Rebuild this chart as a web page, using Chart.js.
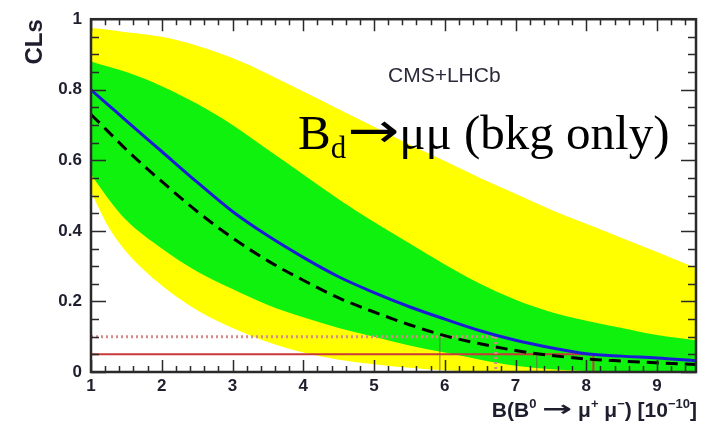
<!DOCTYPE html>
<html>
<head>
<meta charset="utf-8">
<script src="https://cdn.jsdelivr.net/npm/chart.js@4.4.0/dist/chart.umd.min.js"></script>
<style>
  html, body { margin: 0; padding: 0; background: #fff; }
  canvas { display: block; }
</style>
</head>
<body>
<canvas id="cls" width="704" height="427"></canvas>
<script>
// CLs vs B(B0 -> mu+ mu-), background-only hypothesis, CMS+LHCb combination
var xs      = [1, 1.25, 1.5, 2, 2.5, 3, 3.5, 4, 4.5, 5, 5.5, 6, 6.5, 7, 7.5, 8, 8.5, 9, 9.55];
var clsObs  = [0.80, 0.756, 0.712, 0.625, 0.538, 0.455, 0.386, 0.325, 0.27, 0.225, 0.185, 0.15, 0.117, 0.09, 0.069, 0.052, 0.045, 0.04, 0.032];
var clsExp  = [0.73, 0.68, 0.63, 0.54, 0.455, 0.38, 0.315, 0.26, 0.21, 0.17, 0.134, 0.103, 0.08, 0.061, 0.047, 0.037, 0.031, 0.026, 0.021];
var band1Hi = [0.88, 0.865, 0.85, 0.81, 0.76, 0.70, 0.63, 0.56, 0.49, 0.425, 0.365, 0.305, 0.25, 0.205, 0.17, 0.145, 0.125, 0.105, 0.09];
var band1Lo = [0.56, 0.49, 0.43, 0.35, 0.285, 0.235, 0.19, 0.155, 0.125, 0.10, 0.075, 0.055, 0.035, 0.018, 0.008, 0.003, 0.001, 0, 0];
var band2Hi = [0.975, 0.97, 0.963, 0.95, 0.925, 0.89, 0.845, 0.795, 0.745, 0.695, 0.645, 0.598, 0.55, 0.505, 0.46, 0.42, 0.38, 0.34, 0.295];
var band2Lo = [0.51, 0.41, 0.34, 0.245, 0.175, 0.125, 0.085, 0.055, 0.035, 0.022, 0.012, 0.005, 0.002, 0, 0, 0, 0, 0, 0];

var clsLevels = [0.05, 0.1];   // 95% and 90% CL
var obsLimits = [8.1, 6.72];   // observed CLs crossing each level
var expLimits = [7.3, 5.93];   // expected CLs crossing each level

var xTicks = [1, 2, 3, 4, 5, 6, 7, 8, 9];
var yTicks = [0, 0.2, 0.4, 0.6, 0.8, 1];
var xMin = 1, xMax = 9.55;

function pts(ys) {
  return xs.map(function (x, i) { return { x: x, y: ys[i] }; });
}
function limitLine(x, level) {
  return [{ x: xMin, y: level }, { x: x, y: level }, { x: x, y: 0 }];
}
function dropLine(x, level) {
  return [{ x: x, y: level }, { x: x, y: 0 }];
}

var curve = { pointRadius: 0, cubicInterpolationMode: 'monotone' };
var straight = { pointRadius: 0, tension: 0, fill: false };

var datasets = [
  Object.assign({ data: pts(band2Hi), fill: '+1', backgroundColor: '#ffff00', borderWidth: 0, order: 8 }, curve),
  Object.assign({ data: pts(band2Lo), fill: false, borderWidth: 0, order: 7 }, curve),
  Object.assign({ data: pts(band1Hi), fill: '+1', backgroundColor: '#0ef20e', borderWidth: 0, order: 6 }, curve),
  Object.assign({ data: pts(band1Lo), fill: false, borderWidth: 0, order: 5 }, curve),
  Object.assign({ data: dropLine(expLimits[1], clsLevels[1]), borderColor: 'rgba(120,90,90,0.35)', borderWidth: 1 }, straight, { order: 4 }),
  Object.assign({ data: dropLine(expLimits[0], clsLevels[0]), borderColor: 'rgba(120,90,90,0.35)', borderWidth: 1 }, straight, { order: 4 }),
  Object.assign({ data: limitLine(obsLimits[1], clsLevels[1]), borderColor: '#d88a8a', borderWidth: 3, borderDash: [2, 3] }, straight, { order: 3 }),
  Object.assign({ data: limitLine(obsLimits[0], clsLevels[0]), borderColor: '#c83a3a', borderWidth: 2 }, straight, { order: 3 }),
  Object.assign({ data: pts(clsExp), fill: false, borderColor: '#000', borderWidth: 3, borderDash: [12, 7] }, curve, { order: 1 }),
  Object.assign({ data: pts(clsObs), fill: false, borderColor: '#1b1bd6', borderWidth: 3 }, curve, { order: 0 })
];

// draws text squeezed or stretched to a given width, returns that width
function stretchText(ctx, txt, x, y, width) {
  var w = ctx.measureText(txt).width;
  ctx.save();
  ctx.translate(x, y);
  ctx.scale(width / w, 1);
  ctx.fillText(txt, 0, 0);
  ctx.restore();
  return width;
}

// box with inward ticks on all four sides, plus the text labels
var framePlugin = {
  id: 'frame',
  afterDatasetsDraw: function (chart) {
    var ctx = chart.ctx, a = chart.chartArea;
    var sx = chart.scales.x, sy = chart.scales.y;
    ctx.save();
    ctx.strokeStyle = '#2a2a2a';
    ctx.lineWidth = 1.5;
    ctx.beginPath();
    for (var i = 5; i <= 47; i++) {
      var px = Math.round(sx.getPixelForValue(i / 5)) + 0.5;
      var len = i % 5 === 0 ? 12 : 6;
      ctx.moveTo(px, a.bottom); ctx.lineTo(px, a.bottom - len);
      ctx.moveTo(px, a.top); ctx.lineTo(px, a.top + len);
    }
    for (var j = 0; j <= 20; j++) {
      var py = Math.round(sy.getPixelForValue(j * 0.05)) + 0.5;
      var ln = j % 4 === 0 ? 15 : 8;
      ctx.moveTo(a.left, py); ctx.lineTo(a.left + ln, py);
      ctx.moveTo(a.right, py); ctx.lineTo(a.right - ln, py);
    }
    ctx.stroke();
    ctx.lineWidth = 2.5;
    ctx.strokeRect(a.left, a.top, a.right - a.left, a.bottom - a.top);
    ctx.restore();
  },
  afterDraw: function (chart) {
    var ctx = chart.ctx, a = chart.chartArea;
    ctx.save();
    ctx.fillStyle = '#1e1e2e';
    ctx.textBaseline = 'alphabetic';
    ctx.textAlign = 'left';

    // y title
    ctx.save();
    ctx.translate(35, a.top);
    ctx.rotate(-Math.PI / 2);
    ctx.font = 'bold 24px "Liberation Sans", Arial, sans-serif';
    ctx.textAlign = 'right';
    ctx.textBaseline = 'middle';
    ctx.fillText('CLs', 0, 0);
    ctx.restore();

    // x title, right aligned to the frame
    var big = 'bold 21px "Liberation Sans", Arial, sans-serif';
    var small = 'bold 13px "Liberation Sans", Arial, sans-serif';
    var arrow = 'bold 21px "DejaVu Sans", sans-serif';
    var parts = [
      ['B(B', big, 0], ['0', small, -9], [' ', big, 0], ['\u2192', arrow, -1, 30], [' \u03bc', big, 0], ['+', small, -9],
      [' \u03bc', big, 0], ['\u2212', small, -9], [') [10', big, 0], ['\u221210', small, -9], [']', big, 0]
    ];
    var w = 0;
    parts.forEach(function (p) { ctx.font = p[1]; w += p[3] || ctx.measureText(p[0]).width; });
    var x = a.right + 1 - w;
    parts.forEach(function (p) {
      ctx.font = p[1];
      if (p[3]) {
        x += stretchText(ctx, p[0], x, 417 + p[2], p[3]);
      } else {
        ctx.fillText(p[0], x, 417 + p[2]);
        x += ctx.measureText(p[0]).width;
      }
    });

    // experiment label
    ctx.fillStyle = '#2a2a3a';
    ctx.font = '21px "Liberation Sans", Arial, sans-serif';
    ctx.fillText('CMS+LHCb', 388, 82);

    // channel label
    ctx.fillStyle = '#000';
    var serif = '"Liberation Serif", "Times New Roman", serif';
    var bx = 298, by = 149;
    ctx.font = '49px ' + serif;
    ctx.fillText('B', bx, by);
    bx += ctx.measureText('B').width;
    ctx.font = '31px ' + serif;
    ctx.fillText('d', bx, by + 9);
    bx += ctx.measureText('d').width + 1;
    ctx.font = '49px "DejaVu Sans", sans-serif';
    bx += stretchText(ctx, '\u2192', bx, by - 2, 52);
    ctx.font = '49px ' + serif;
    ctx.fillText('\u03bc\u03bc (bkg only)', bx, by);
    ctx.restore();
  }
};

var tickFont = { family: '"Liberation Sans", Arial, sans-serif', weight: 'bold', size: 17 };

new Chart(document.getElementById('cls').getContext('2d'), {
  type: 'line',
  data: { datasets: datasets },
  options: {
    responsive: false,
    animation: false,
    layout: { padding: { top: 16, right: 8, left: 0, bottom: 0 } },
    plugins: { legend: { display: false }, tooltip: { enabled: false } },
    scales: {
      x: {
        type: 'linear', min: xMin, max: xMax,
        grid: { display: false, drawTicks: false },
        border: { display: false },
        ticks: { font: tickFont, color: '#1e1e2e', padding: 4, maxRotation: 0 },
        afterBuildTicks: function (s) { s.ticks = xTicks.map(function (v) { return { value: v }; }); },
        afterFit: function (s) { s.height = 55; }
      },
      y: {
        min: 0, max: 1,
        grid: { display: false, drawTicks: false },
        border: { display: false },
        ticks: {
          font: tickFont, color: '#1e1e2e', padding: 9,
          callback: function (v) { return (v === 0 || v === 1) ? String(v) : v.toFixed(1); }
        },
        afterBuildTicks: function (s) { s.ticks = yTicks.map(function (v) { return { value: v }; }); },
        afterFit: function (s) { s.width = 91; }
      }
    }
  },
  plugins: [framePlugin]
});
</script>
</body>
</html>
